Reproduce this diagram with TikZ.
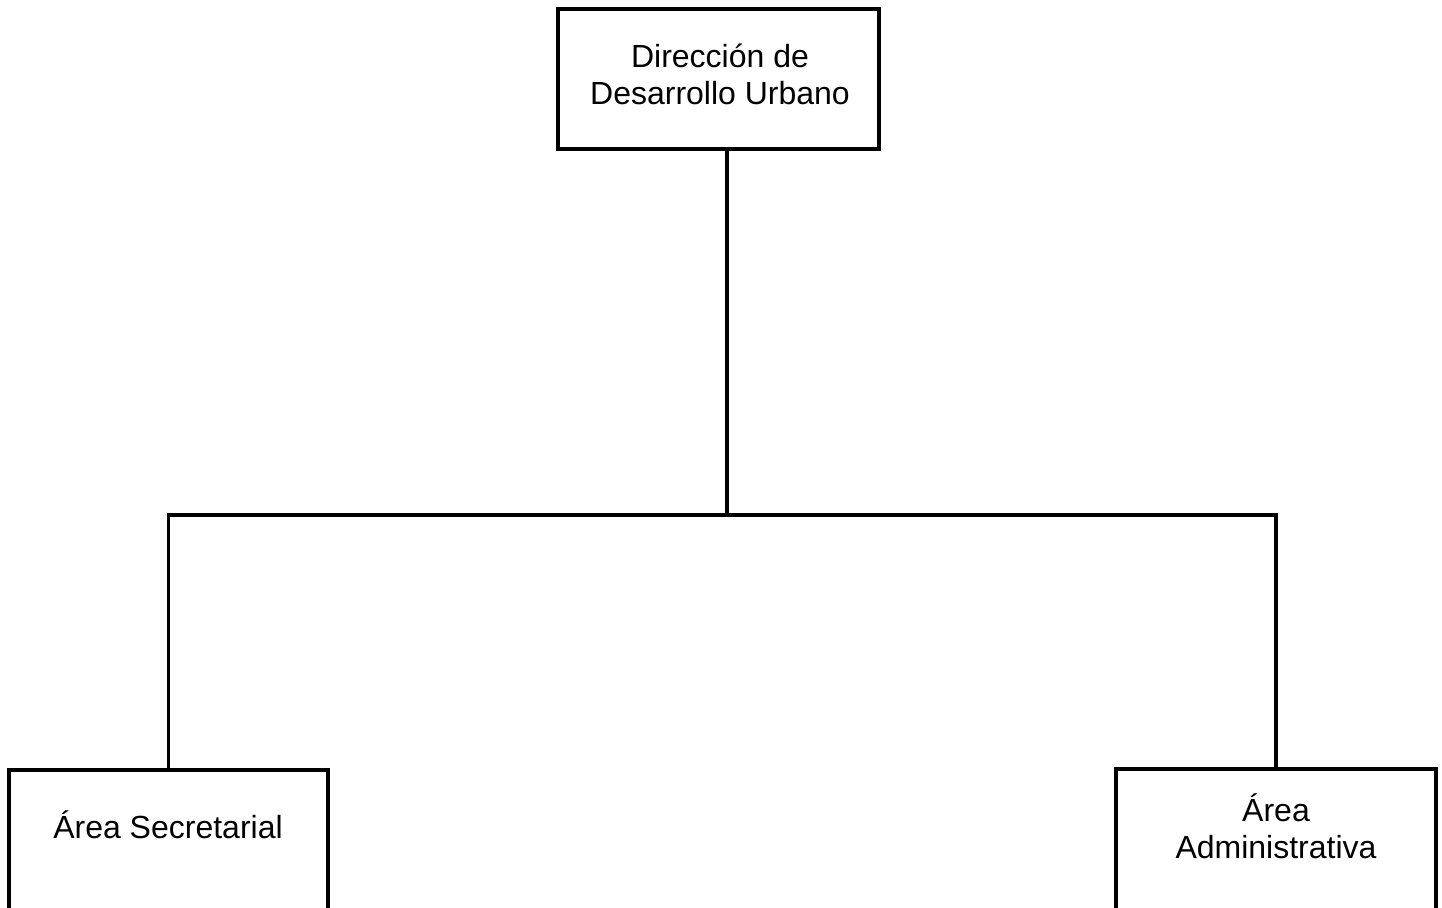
\documentclass[tikz,border=0pt]{standalone}
\usepackage{fontspec}
\setmainfont{Liberation Sans}
\begin{document}
\begin{tikzpicture}[x=1pt,y=-1pt,
  box/.style={draw=black,line width=3.5pt,rectangle,inner sep=0pt},
  lbl/.style={inner sep=0pt,align=center,font=\fontsize{32}{37}\selectfont,anchor=base},
  wire/.style={draw=black,line width=3.5pt}]
\useasboundingbox (0,0) rectangle (1442,907);
\clip (0,0) rectangle (1442,907);
\fill[white] (0,0) rectangle (1442,907);
\node[box,minimum width=321pt,minimum height=140pt] (top) at (718.5,79) {};
\node[box,minimum width=319pt,minimum height=170pt] (left) at (168.5,855) {};
\node[box,minimum width=320pt,minimum height=170pt] (right) at (1276,854) {};
\node[lbl] (ttop) at (720,104) {Dirección de\\Desarrollo Urbano};
\node[lbl] (tleft) at (168,838) {Área Secretarial};
\node[lbl] (tright) at (1276,858) {Área\\Administrativa};
\coordinate (j) at (727,515);
\draw[wire] (top.south -| j) -- (j);
\draw[wire,line join=miter] (left.north) |- (j) -| (right.north);
\end{tikzpicture}
\end{document}
